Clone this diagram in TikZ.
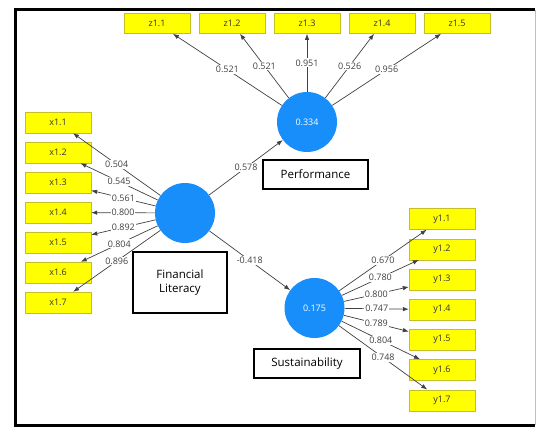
\documentclass[tikz,border=0pt]{standalone}
\usepackage{fontspec}
\setmainfont{Open Sans}
\usetikzlibrary{positioning,arrows.meta}
\definecolor{lvblue}{RGB}{24,142,250}
\definecolor{indyellow}{RGB}{255,255,0}
\definecolor{indborder}{RGB}{196,190,40}
\definecolor{linegray}{RGB}{64,64,64}

\begin{document}
\begin{tikzpicture}[x=1pt, y=1pt,
    every node/.style={font=\fontsize{9}{10}\selectfont},
    ind/.style={draw=indborder, fill=indyellow, rectangle, minimum width=66pt, minimum height=21pt, inner sep=0pt, text=black!80},
    lv/.style={circle, fill=lvblue, minimum size=60pt, inner sep=0pt, text=white},
    tag/.style={draw, line width=1.6pt, fill=white, rectangle, inner sep=0pt, align=center, font=\fontsize{11.5}{14}\selectfont},
    load/.style={draw=linegray, line width=0.7pt, -{Latex[length=6pt,width=4.5pt]}},
    coef/.style={fill=white, inner sep=1pt, text=linegray}]
    \useasboundingbox (0,0) rectangle (537,-428);

    % frame
    \draw[gray!50] (535,-10) -- (535,-425);
    \draw[line width=3pt] (535,-10) -- (15,-10) -- (15,-425) -- (535,-425);

    % latent variables
    \node[lv] (fl) at (185,-213) {};
    \node[lv] (perf) at (307,-122) {0.334};
    \node[lv] (sust) at (314.5,-308) {0.175};

    % indicators
    \foreach \i in {1,...,5}
        \node[ind, minimum height=20.6pt] (z1\i) at ({157+75*(\i-1)},-23.3) {z1.\i};
    \foreach \i in {1,...,7}
        \node[ind] (x1\i) at (58,{-122.5-30*(\i-1)}) {x1.\i};
    \foreach \i in {1,...,7}
        \node[ind] (y1\i) at (442,{-219-30.2*(\i-1)}) {y1.\i};

    % outer loadings
    \foreach \i/\v in {1/0.521, 2/0.521, 3/0.951, 4/0.526, 5/0.956}
        \draw[load] (perf) -- node[coef] {\v} (z1\i);
    \foreach \i/\v in {1/0.504, 2/0.545, 3/0.561, 4/0.800, 5/0.892, 6/0.804, 7/0.896}
        \draw[load] (fl) -- node[coef] {\v} (x1\i);
    \foreach \i/\v in {1/0.670, 2/0.780, 3/0.800, 4/0.747, 5/0.789, 6/0.804, 7/0.748}
        \draw[load] (sust) -- node[coef] {\v} (y1\i);

    % path coefficients
    \draw[load] (fl) -- node[coef] {0.578} (perf);
    \draw[load] (fl) -- node[coef] {-0.418} (sust);

    % construct names
    \node[tag, minimum width=105pt, minimum height=29pt] (perftag) at (315.5,-174.5) {Performance};
    \node[tag, minimum width=94pt, minimum height=61pt] (fltag) at (180,-282.5) {Financial\\Literacy};
    \node[tag, minimum width=106pt, minimum height=29pt] (susttag) at (307,-363.5) {Sustainability};
\end{tikzpicture}
\end{document}
